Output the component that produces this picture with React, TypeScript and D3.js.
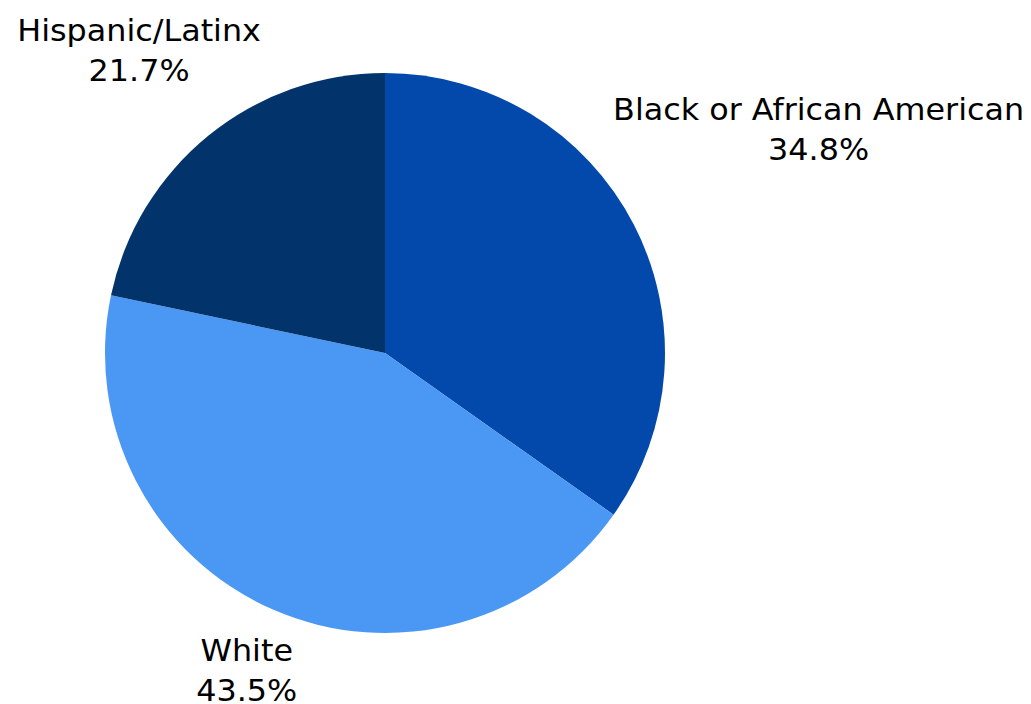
import React, { useEffect, useRef } from "react";
import * as d3 from "d3";

const categories = ["Black or African American", "White", "Hispanic/Latinx"];
const values = [34.8, 43.5, 21.7];
const colors = ["#0349AC", "#4B98F4", "#02336A"];

const W = 1031;
const H = 704;
const CX = 385;
const CY = 353;
const R = 280;
const FONT = "'DejaVu Sans', sans-serif";
const FS = 30;
const CAP = 22;
const LINE = 40;
const PAD = 19;
const WIDEN = 1.06;

export default function App() {
  const ref = useRef<SVGSVGElement>(null);
  useEffect(() => {
    document.body.style.margin = "0";
    const svg = d3.select(ref.current);
    svg.selectAll("*").remove();
    const data = categories.map((c, i) => ({ c, v: values[i], color: colors[i] }));
    const pie = d3.pie<any>().sort(null).value((d) => d.v);
    const arcs = pie(data);
    const arc = d3.arc<any>().innerRadius(0).outerRadius(R);
    const g = svg.append("g").attr("transform", `translate(${CX},${CY})`);
    g.selectAll("path")
      .data(arcs)
      .enter()
      .append("path")
      .attr("d", arc as any)
      .attr("fill", (d: any) => d.data.color);

    arcs.forEach((a: any) => {
      const mid = (a.startAngle + a.endAngle) / 2;
      const dx = Math.sin(mid);
      const dy = -Math.cos(mid);
      const lg = g.append("g");
      const mk = (txt: string, y: number) => {
        const t = lg
          .append("text")
          .attr("text-anchor", "middle")
          .attr("font-family", FONT)
          .attr("font-size", FS)
          .attr("fill", "#000")
          .attr("y", y)
          .text(txt);
        const len = (t.node() as SVGTextElement).getComputedTextLength() * WIDEN;
        t.attr("textLength", len).attr("lengthAdjust", "spacingAndGlyphs");
        return len;
      };
      const w = Math.max(mk(a.data.c, 0), mk(a.data.v.toFixed(1) + "%", LINE));
      const h = LINE + CAP;
      let lo = 0, hi = 1000;
      for (let k = 0; k < 60; k++) {
        const m = (lo + hi) / 2;
        const cx = dx * m, cy = dy * m;
        const nx = Math.max(Math.abs(cx) - w / 2, 0);
        const ny = Math.max(Math.abs(cy) - h / 2, 0);
        const dist = Math.hypot(nx, ny);
        if (dist < R + PAD) lo = m; else hi = m;
      }
      const cx = dx * lo, cy = dy * lo;
      lg.attr("transform", `translate(${cx},${cy - h / 2 + CAP})`);
    });
  }, []);
  return <svg ref={ref} width={W} height={H} style={{ display: "block" }} />;
}
